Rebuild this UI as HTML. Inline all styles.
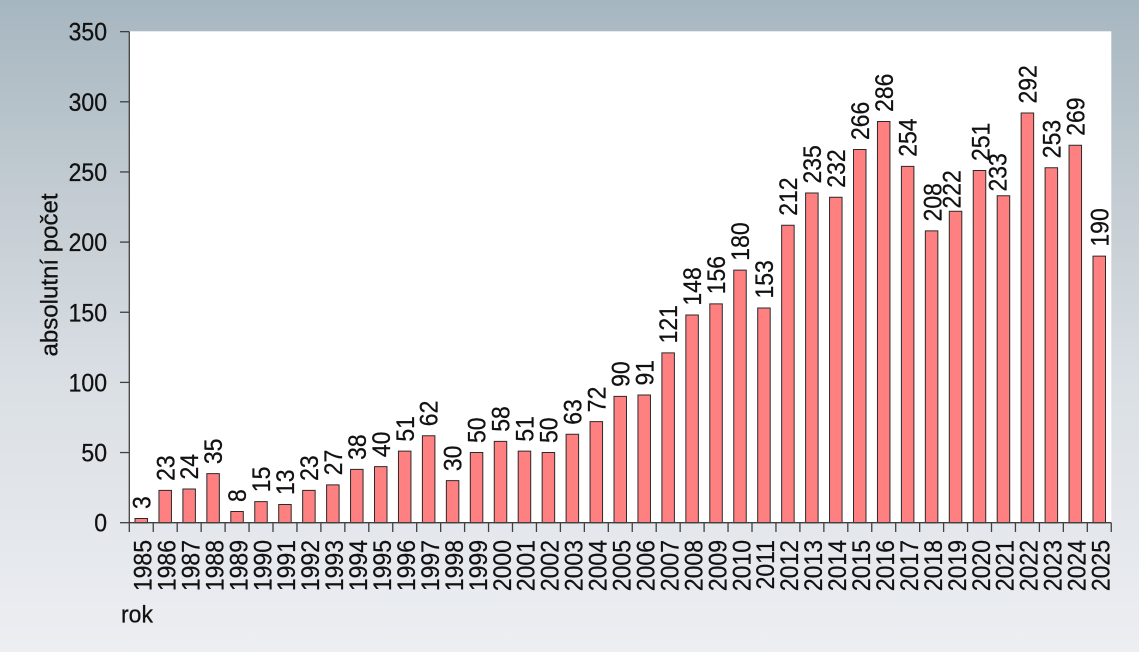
<!DOCTYPE html>
<html><head><meta charset="utf-8">
<style>
html,body{margin:0;padding:0;}
body{width:1139px;height:652px;overflow:hidden;}
svg{display:block;}
text{font-family:"Liberation Sans","DejaVu Sans",sans-serif;fill:#111;stroke:#111;stroke-width:0.25px;}
</style></head>
<body>
<svg width="1139" height="652" viewBox="0 0 1139 652" xmlns="http://www.w3.org/2000/svg">
<defs>
<linearGradient id="bg" x1="0" y1="0" x2="0" y2="1">
<stop offset="0" stop-color="#a6b6c0"/>
<stop offset="0.3" stop-color="#c3ccd2"/>
<stop offset="0.6" stop-color="#dbe0e5"/>
<stop offset="1" stop-color="#eceef2"/>
</linearGradient>
</defs>
<rect x="0" y="0" width="1139" height="652" fill="url(#bg)"/>
<rect x="129.3" y="31.3" width="982" height="491.4" fill="#ffffff"/>

<!-- bars -->
<g transform="translate(0,522.7) scale(1,-1.403)" fill="#ff8080" stroke="#2a2a2a" stroke-width="1">
<rect vector-effect="non-scaling-stroke" x="135.0" y="0" width="12.5" height="3"/>
<rect vector-effect="non-scaling-stroke" x="158.95" y="0" width="12.5" height="23"/>
<rect vector-effect="non-scaling-stroke" x="182.9" y="0" width="12.5" height="24"/>
<rect vector-effect="non-scaling-stroke" x="206.85" y="0" width="12.5" height="35"/>
<rect vector-effect="non-scaling-stroke" x="230.8" y="0" width="12.5" height="8"/>
<rect vector-effect="non-scaling-stroke" x="254.75" y="0" width="12.5" height="15"/>
<rect vector-effect="non-scaling-stroke" x="278.7" y="0" width="12.5" height="13"/>
<rect vector-effect="non-scaling-stroke" x="302.65" y="0" width="12.5" height="23"/>
<rect vector-effect="non-scaling-stroke" x="326.6" y="0" width="12.5" height="27"/>
<rect vector-effect="non-scaling-stroke" x="350.55" y="0" width="12.5" height="38"/>
<rect vector-effect="non-scaling-stroke" x="374.5" y="0" width="12.5" height="40"/>
<rect vector-effect="non-scaling-stroke" x="398.45" y="0" width="12.5" height="51"/>
<rect vector-effect="non-scaling-stroke" x="422.4" y="0" width="12.5" height="62"/>
<rect vector-effect="non-scaling-stroke" x="446.35" y="0" width="12.5" height="30"/>
<rect vector-effect="non-scaling-stroke" x="470.3" y="0" width="12.5" height="50"/>
<rect vector-effect="non-scaling-stroke" x="494.25" y="0" width="12.5" height="58"/>
<rect vector-effect="non-scaling-stroke" x="518.2" y="0" width="12.5" height="51"/>
<rect vector-effect="non-scaling-stroke" x="542.15" y="0" width="12.5" height="50"/>
<rect vector-effect="non-scaling-stroke" x="566.1" y="0" width="12.5" height="63"/>
<rect vector-effect="non-scaling-stroke" x="590.05" y="0" width="12.5" height="72"/>
<rect vector-effect="non-scaling-stroke" x="614.0" y="0" width="12.5" height="90"/>
<rect vector-effect="non-scaling-stroke" x="637.95" y="0" width="12.5" height="91"/>
<rect vector-effect="non-scaling-stroke" x="661.9" y="0" width="12.5" height="121"/>
<rect vector-effect="non-scaling-stroke" x="685.85" y="0" width="12.5" height="148"/>
<rect vector-effect="non-scaling-stroke" x="709.8" y="0" width="12.5" height="156"/>
<rect vector-effect="non-scaling-stroke" x="733.75" y="0" width="12.5" height="180"/>
<rect vector-effect="non-scaling-stroke" x="757.7" y="0" width="12.5" height="153"/>
<rect vector-effect="non-scaling-stroke" x="781.65" y="0" width="12.5" height="212"/>
<rect vector-effect="non-scaling-stroke" x="805.6" y="0" width="12.5" height="235"/>
<rect vector-effect="non-scaling-stroke" x="829.55" y="0" width="12.5" height="232"/>
<rect vector-effect="non-scaling-stroke" x="853.5" y="0" width="12.5" height="266"/>
<rect vector-effect="non-scaling-stroke" x="877.45" y="0" width="12.5" height="286"/>
<rect vector-effect="non-scaling-stroke" x="901.4" y="0" width="12.5" height="254"/>
<rect vector-effect="non-scaling-stroke" x="925.35" y="0" width="12.5" height="208"/>
<rect vector-effect="non-scaling-stroke" x="949.3" y="0" width="12.5" height="222"/>
<rect vector-effect="non-scaling-stroke" x="973.25" y="0" width="12.5" height="251"/>
<rect vector-effect="non-scaling-stroke" x="997.2" y="0" width="12.5" height="233"/>
<rect vector-effect="non-scaling-stroke" x="1021.15" y="0" width="12.5" height="292"/>
<rect vector-effect="non-scaling-stroke" x="1045.1" y="0" width="12.5" height="253"/>
<rect vector-effect="non-scaling-stroke" x="1069.05" y="0" width="12.5" height="269"/>
<rect vector-effect="non-scaling-stroke" x="1093.0" y="0" width="12.5" height="190"/>
</g>

<!-- axes -->
<g stroke="#404040" stroke-width="1.3" fill="none">
<line x1="129.3" y1="31.6" x2="129.3" y2="532"/>
<line x1="129.3" y1="522.7" x2="1111.3" y2="522.7"/>
<line x1="120" y1="522.7" x2="129.3" y2="522.7"/>
<line x1="120" y1="452.55" x2="129.3" y2="452.55"/>
<line x1="120" y1="382.4" x2="129.3" y2="382.4"/>
<line x1="120" y1="312.25" x2="129.3" y2="312.25"/>
<line x1="120" y1="242.1" x2="129.3" y2="242.1"/>
<line x1="120" y1="171.95" x2="129.3" y2="171.95"/>
<line x1="120" y1="101.8" x2="129.3" y2="101.8"/>
<line x1="120" y1="31.65" x2="129.3" y2="31.65"/>
<path d="M153.25 522.7V532M177.2 522.7V532M201.15 522.7V532M225.1 522.7V532M249.05 522.7V532M273 522.7V532M296.95 522.7V532M320.9 522.7V532M344.85 522.7V532M368.8 522.7V532M392.75 522.7V532M416.7 522.7V532M440.65 522.7V532M464.6 522.7V532M488.55 522.7V532M512.5 522.7V532M536.45 522.7V532M560.4 522.7V532M584.35 522.7V532M608.3 522.7V532M632.25 522.7V532M656.2 522.7V532M680.15 522.7V532M704.1 522.7V532M728.05 522.7V532M752 522.7V532M775.95 522.7V532M799.9 522.7V532M823.85 522.7V532M847.8 522.7V532M871.75 522.7V532M895.7 522.7V532M919.65 522.7V532M943.6 522.7V532M967.55 522.7V532M991.5 522.7V532M1015.45 522.7V532M1039.4 522.7V532M1063.35 522.7V532M1087.3 522.7V532M1111.25 522.7V532"/>
</g>

<!-- y tick labels -->
<g font-size="23" text-anchor="end">
<text transform="translate(107,531.7) scale(1,1.1)">0</text>
<text transform="translate(107,461.55) scale(1,1.1)">50</text>
<text transform="translate(107,391.4) scale(1,1.1)">100</text>
<text transform="translate(107,321.25) scale(1,1.1)">150</text>
<text transform="translate(107,251.1) scale(1,1.1)">200</text>
<text transform="translate(107,180.95) scale(1,1.1)">250</text>
<text transform="translate(107,110.8) scale(1,1.1)">300</text>
<text transform="translate(107,40.65) scale(1,1.1)">350</text>
</g>

<!-- y title -->
<text font-size="22" text-anchor="middle" transform="translate(57.6,275) rotate(-90) scale(1,1.1)" textLength="163" lengthAdjust="spacingAndGlyphs">absolutní počet</text>
<!-- x title -->
<text font-size="23" transform="translate(121,622.5) scale(1,1.05)">rok</text>

<!-- x labels -->
<g font-size="23" text-anchor="end">
<text transform="translate(151.5,540) rotate(-90) scale(1,1.1)">1985</text>
<text transform="translate(175.45,540) rotate(-90) scale(1,1.1)">1986</text>
<text transform="translate(199.4,540) rotate(-90) scale(1,1.1)">1987</text>
<text transform="translate(223.35,540) rotate(-90) scale(1,1.1)">1988</text>
<text transform="translate(247.3,540) rotate(-90) scale(1,1.1)">1989</text>
<text transform="translate(271.25,540) rotate(-90) scale(1,1.1)">1990</text>
<text transform="translate(295.2,540) rotate(-90) scale(1,1.1)">1991</text>
<text transform="translate(319.15,540) rotate(-90) scale(1,1.1)">1992</text>
<text transform="translate(343.1,540) rotate(-90) scale(1,1.1)">1993</text>
<text transform="translate(367.05,540) rotate(-90) scale(1,1.1)">1994</text>
<text transform="translate(391,540) rotate(-90) scale(1,1.1)">1995</text>
<text transform="translate(414.95,540) rotate(-90) scale(1,1.1)">1996</text>
<text transform="translate(438.9,540) rotate(-90) scale(1,1.1)">1997</text>
<text transform="translate(462.85,540) rotate(-90) scale(1,1.1)">1998</text>
<text transform="translate(486.8,540) rotate(-90) scale(1,1.1)">1999</text>
<text transform="translate(510.75,540) rotate(-90) scale(1,1.1)">2000</text>
<text transform="translate(534.7,540) rotate(-90) scale(1,1.1)">2001</text>
<text transform="translate(558.65,540) rotate(-90) scale(1,1.1)">2002</text>
<text transform="translate(582.6,540) rotate(-90) scale(1,1.1)">2003</text>
<text transform="translate(606.55,540) rotate(-90) scale(1,1.1)">2004</text>
<text transform="translate(630.5,540) rotate(-90) scale(1,1.1)">2005</text>
<text transform="translate(654.45,540) rotate(-90) scale(1,1.1)">2006</text>
<text transform="translate(678.4,540) rotate(-90) scale(1,1.1)">2007</text>
<text transform="translate(702.35,540) rotate(-90) scale(1,1.1)">2008</text>
<text transform="translate(726.3,540) rotate(-90) scale(1,1.1)">2009</text>
<text transform="translate(750.25,540) rotate(-90) scale(1,1.1)">2010</text>
<text transform="translate(774.2,540) rotate(-90) scale(1,1.1)">2011</text>
<text transform="translate(798.15,540) rotate(-90) scale(1,1.1)">2012</text>
<text transform="translate(822.1,540) rotate(-90) scale(1,1.1)">2013</text>
<text transform="translate(846.05,540) rotate(-90) scale(1,1.1)">2014</text>
<text transform="translate(870,540) rotate(-90) scale(1,1.1)">2015</text>
<text transform="translate(893.95,540) rotate(-90) scale(1,1.1)">2016</text>
<text transform="translate(917.9,540) rotate(-90) scale(1,1.1)">2017</text>
<text transform="translate(941.85,540) rotate(-90) scale(1,1.1)">2018</text>
<text transform="translate(965.8,540) rotate(-90) scale(1,1.1)">2019</text>
<text transform="translate(989.75,540) rotate(-90) scale(1,1.1)">2020</text>
<text transform="translate(1013.7,540) rotate(-90) scale(1,1.1)">2021</text>
<text transform="translate(1037.65,540) rotate(-90) scale(1,1.1)">2022</text>
<text transform="translate(1061.6,540) rotate(-90) scale(1,1.1)">2023</text>
<text transform="translate(1085.55,540) rotate(-90) scale(1,1.1)">2024</text>
<text transform="translate(1109.5,540) rotate(-90) scale(1,1.1)">2025</text>
</g>

<!-- data labels -->
<g font-size="23" text-anchor="start">
<text transform="translate(150.3,509.0) rotate(-90) scale(1,1.1)">3</text>
<text transform="translate(174.25,480.9) rotate(-90) scale(1,1.1)">23</text>
<text transform="translate(198.2,479.5) rotate(-90) scale(1,1.1)">24</text>
<text transform="translate(222.15,464.1) rotate(-90) scale(1,1.1)">35</text>
<text transform="translate(246.1,502.0) rotate(-90) scale(1,1.1)">8</text>
<text transform="translate(270.05,492.2) rotate(-90) scale(1,1.1)">15</text>
<text transform="translate(294,495.0) rotate(-90) scale(1,1.1)">13</text>
<text transform="translate(317.95,480.9) rotate(-90) scale(1,1.1)">23</text>
<text transform="translate(341.9,475.3) rotate(-90) scale(1,1.1)">27</text>
<text transform="translate(365.85,459.9) rotate(-90) scale(1,1.1)">38</text>
<text transform="translate(389.8,457.1) rotate(-90) scale(1,1.1)">40</text>
<text transform="translate(413.75,441.6) rotate(-90) scale(1,1.1)">51</text>
<text transform="translate(437.7,426.2) rotate(-90) scale(1,1.1)">62</text>
<text transform="translate(461.65,471.1) rotate(-90) scale(1,1.1)">30</text>
<text transform="translate(485.6,443.0) rotate(-90) scale(1,1.1)">50</text>
<text transform="translate(509.55,431.8) rotate(-90) scale(1,1.1)">58</text>
<text transform="translate(533.5,441.6) rotate(-90) scale(1,1.1)">51</text>
<text transform="translate(557.45,443.0) rotate(-90) scale(1,1.1)">50</text>
<text transform="translate(581.4,424.8) rotate(-90) scale(1,1.1)">63</text>
<text transform="translate(605.35,412.2) rotate(-90) scale(1,1.1)">72</text>
<text transform="translate(629.3,386.9) rotate(-90) scale(1,1.1)">90</text>
<text transform="translate(653.25,385.5) rotate(-90) scale(1,1.1)">91</text>
<text transform="translate(677.2,343.4) rotate(-90) scale(1,1.1)">121</text>
<text transform="translate(701.15,305.6) rotate(-90) scale(1,1.1)">148</text>
<text transform="translate(725.1,294.3) rotate(-90) scale(1,1.1)">156</text>
<text transform="translate(749.05,260.7) rotate(-90) scale(1,1.1)">180</text>
<text transform="translate(773,298.5) rotate(-90) scale(1,1.1)">153</text>
<text transform="translate(796.95,215.8) rotate(-90) scale(1,1.1)">212</text>
<text transform="translate(820.9,183.5) rotate(-90) scale(1,1.1)">235</text>
<text transform="translate(844.85,187.7) rotate(-90) scale(1,1.1)">232</text>
<text transform="translate(868.8,140.0) rotate(-90) scale(1,1.1)">266</text>
<text transform="translate(892.75,111.9) rotate(-90) scale(1,1.1)">286</text>
<text transform="translate(916.7,156.8) rotate(-90) scale(1,1.1)">254</text>
<text transform="translate(941.5,221.4) rotate(-90) scale(1,1.1)">208</text>
<text transform="translate(960.5,208.5) rotate(-90) scale(1,1.1)">222</text>
<text transform="translate(989.5,161.0) rotate(-90) scale(1,1.1)">251</text>
<text transform="translate(1006.5,191.5) rotate(-90) scale(1,1.1)">233</text>
<text transform="translate(1036.45,103.5) rotate(-90) scale(1,1.1)">292</text>
<text transform="translate(1060.4,158.2) rotate(-90) scale(1,1.1)">253</text>
<text transform="translate(1084.35,135.8) rotate(-90) scale(1,1.1)">269</text>
<text transform="translate(1108.3,246.6) rotate(-90) scale(1,1.1)">190</text>
</g>
</svg>
</body></html>
